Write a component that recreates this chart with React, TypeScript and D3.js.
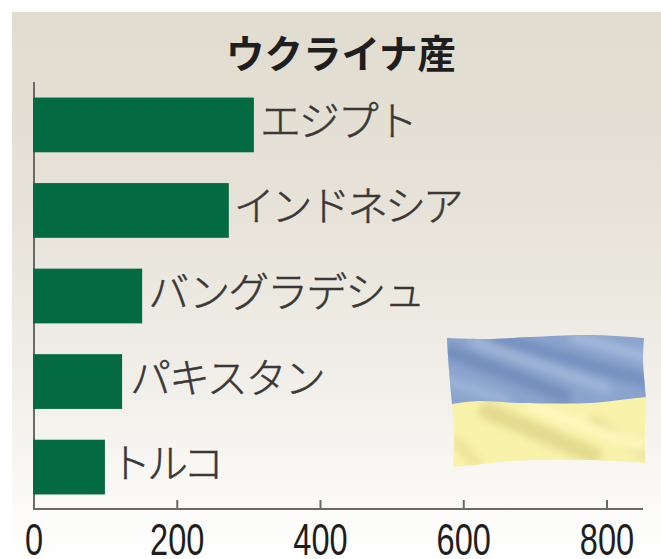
import React from 'react';
import * as d3 from 'd3';

const categories = ['エジプト', 'インドネシア', 'バングラデシュ', 'パキスタン', 'トルコ'];
const values = [307, 272, 151, 123, 99];
const tickValues = [0, 200, 400, 600, 800];
const titleText = 'ウクライナ産';

// Per-label kerning and horizontal nudge for the country names
const labelTracking = [-2, -3.2, -2, -2, -4];
const labelNudge = [6, 5, 6, 8, 5];

// Outline of the waving flag, traced along its edges
const flagTop: [number, number][] = [[447, 338], [490, 339], [530, 337], [590, 335], [644, 338]];
const flagRight: [number, number][] = [[644, 338], [643, 360], [646, 397]];
const flagMiddle: [number, number][] = [[646, 397], [628, 399], [590, 403], [520, 403], [480, 401], [452, 404]];
const flagLeft: [number, number][] = [[452, 404], [449, 370], [447, 338]];
const flagRightLow: [number, number][] = [[646, 397], [645, 430], [645, 463]];
const flagBottom: [number, number][] = [[645, 463], [590, 460], [510, 461], [475, 465], [453, 467]];
const flagLeftLow: [number, number][] = [[453, 467], [454, 435], [452, 404]];

// Cloth folds: start point, end point, stroke width, colour
const blueFolds: [number, number, number, number, number, string][] = [
  [445, 350, 570, 398, 14, '#738dbc'],
  [490, 336, 650, 382, 13, '#7590bf'],
  [445, 380, 510, 402, 9, '#a0b5da'],
  [470, 340, 610, 390, 8, '#a6b9db'],
  [570, 336, 650, 358, 10, '#a6b9db'],
];
const yellowFolds: [number, number, number, number, number, string][] = [
  [480, 408, 600, 458, 17, '#e4da8e'],
  [590, 420, 650, 456, 11, '#e4da90'],
  [452, 438, 480, 466, 10, '#ece39a'],
  [530, 406, 645, 448, 10, '#fff9bf'],
];

const W = 661;
const H = 559;

export default function App() {
  const x = d3.scaleLinear().domain([0, 800]).range([34, 607]);
  const y = d3.scaleBand<string>().domain(categories).range([83, 509]).paddingInner(0.36).paddingOuter(0.17);
  const edge = d3.line<[number, number]>().curve(d3.curveCatmullRom);
  const area = (parts: [number, number][][]) =>
    parts.map((p, i) => {
      const d = edge(p) as string;
      return i === 0 ? d : d.replace(/^M/, 'L');
    }).join('') + 'Z';
  const bluePath = area([flagTop, flagRight, flagMiddle, flagLeft]);
  const yellowPath = area([flagMiddle, flagLeftLow.slice().reverse(), flagBottom.slice().reverse(), flagRightLow.slice().reverse()]);
  const font = '"Noto Sans CJK JP", sans-serif';

  return (
    <svg width={W} height={H} viewBox={`0 0 ${W} ${H}`} style={{ position: 'absolute', left: 0, top: 0, background: '#fff' }}>
      <defs>
        <linearGradient id="panel" x1="0" y1="0" x2="0" y2="1">
          <stop offset="0" stopColor="#e0dccf" />
          <stop offset="0.35" stopColor="#e6e2d8" />
          <stop offset="0.7" stopColor="#f2f0ea" />
          <stop offset="1" stopColor="#ffffff" />
        </linearGradient>
        <clipPath id="blueClip"><path d={bluePath} /></clipPath>
        <clipPath id="yellowClip"><path d={yellowPath} /></clipPath>
        <filter id="soft" x="-20%" y="-20%" width="140%" height="140%"><feGaussianBlur stdDeviation="4" /></filter>
      </defs>
      <rect x={12} y={12} width={W - 12} height={H - 12} fill="url(#panel)" />

      <text x={341} y={68} textAnchor="middle" fontFamily={font} fontWeight={700} fontSize={38.5} fill="#1e1e1e">{titleText}</text>

      {/* Flag */}
      <path d={yellowPath} fill="#f8f2ab" />
      <g clipPath="url(#yellowClip)">
        <g filter="url(#soft)">
          {yellowFolds.map((f, i) => <line key={i} x1={f[0]} y1={f[1]} x2={f[2]} y2={f[3]} strokeWidth={f[4]} stroke={f[5]} />)}
        </g>
      </g>
      <path d={bluePath} fill="#8ba4cd" />
      <g clipPath="url(#blueClip)">
        <g filter="url(#soft)">
          {blueFolds.map((f, i) => <line key={i} x1={f[0]} y1={f[1]} x2={f[2]} y2={f[3]} strokeWidth={f[4]} stroke={f[5]} />)}
        </g>
      </g>

      {/* Axes sit beneath the bars */}
      <path d={`M${x(0)},82V509H643`} fill="none" stroke="#6a6a66" strokeWidth={2} />
      {tickValues.slice(1).map((t) => (
        <line key={t} x1={x(t)} x2={x(t)} y1={500} y2={509} stroke="#6a6a66" strokeWidth={2} />
      ))}
      {tickValues.map((t) => (
        <text key={t} transform={`translate(${x(t)},555) scale(0.74,1)`} textAnchor="middle" fontFamily='"Liberation Sans", sans-serif' fontSize={44} fill="#1e1e1e">{t}</text>
      ))}

      {/* Bars and country labels */}
      {categories.map((c, i) => (
        <g key={c}>
          <rect x={x(0) - 1} y={y(c)} width={x(values[i]) - x(0) + 1} height={y.bandwidth()} fill="#046a41" />
          <text x={x(values[i]) + labelNudge[i]} y={(y(c) as number) + y.bandwidth() / 2 + 11} letterSpacing={labelTracking[i]} fontFamily={font} fontWeight={300} fontSize={41} fill="#3a3836" stroke="#3a3836" strokeWidth={0.5}>{c}</text>
        </g>
      ))}
    </svg>
  );
}
